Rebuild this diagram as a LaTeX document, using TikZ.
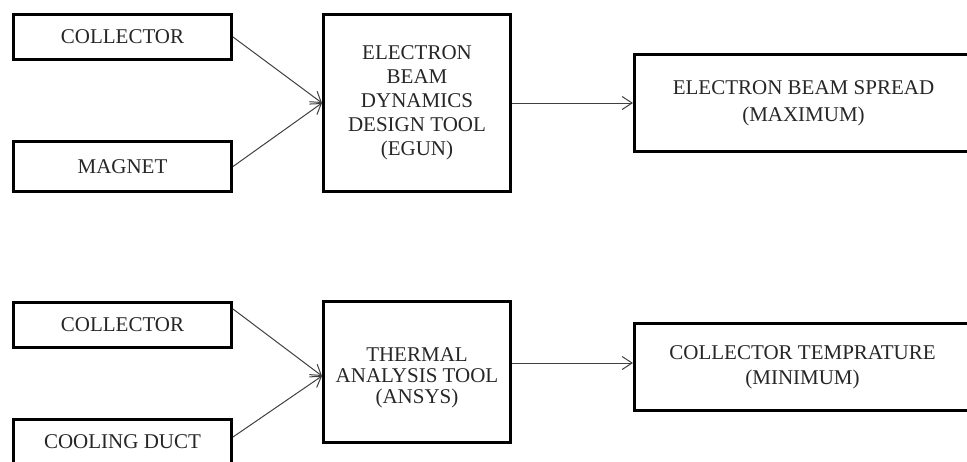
\documentclass[tikz,border=0pt]{standalone}
\usepackage{fontspec}
\setmainfont{Liberation Serif}
\usetikzlibrary{arrows.meta,calc}
\tikzset{
  blk/.style={draw=black, line width=2.6pt, rectangle, inner sep=2pt, align=center,
    text=black!85, font=\fontsize{21}{24}\selectfont},
  conn/.style={draw=black!75, line width=1pt, -{Straight Barb[length=10pt,width=13pt]}}
}
\begin{document}
\begin{tikzpicture}[x=1pt,y=-1pt]
\useasboundingbox (0,0) rectangle (967,461);
\begin{scope}
\clip (0,0) rectangle (967,461);
% top row
\node[blk, minimum width=218.4pt, minimum height=45.4pt] (c1) at (122.5,37) {COLLECTOR};
\node[blk, minimum width=218.4pt, minimum height=50.4pt] (mag) at (122.5,166.5) {MAGNET};
\node[blk, minimum width=187.4pt, minimum height=177.4pt] (egun) at (417,103)
  {ELECTRON\\BEAM\\DYNAMICS\\DESIGN TOOL\\(EGUN)};
\node[blk, minimum width=338.4pt, minimum height=97.4pt, font=\fontsize{21}{27}\selectfont] (spread) at (803.5,103)
  {ELECTRON BEAM SPREAD\\(MAXIMUM)};
% bottom row
\node[blk, minimum width=218.4pt, minimum height=45.4pt] (c2) at (122.5,325) {COLLECTOR};
\node[blk, minimum width=218.4pt, minimum height=45.4pt] (duct) at (122.5,442) {COOLING DUCT};
\node[blk, minimum width=187.4pt, minimum height=141.4pt, font=\fontsize{21}{21}\selectfont] (ansys) at (417,372)
  {\raisebox{-11pt}[0pt][0pt]{\begin{tabular}{@{}c@{}}THERMAL\\ANALYSIS TOOL\\(ANSYS)\end{tabular}}};
\node[blk, minimum width=336.4pt, minimum height=87.4pt, font=\fontsize{21}{25}\selectfont] (temp) at (802.5,367)
  {COLLECTOR TEMPRATURE\\(MINIMUM)};
\end{scope}
% connectors
\coordinate (a2) at ($(ansys.west)+(0,4)$);
\coordinate (s2) at ($(c2.north east)+(0,8)$);
\coordinate (s3) at ($(duct.north east)+(0,19)$);
\coordinate (t1) at ($(temp.west)+(0,-4)$);
\draw[conn] (c1.east) -- (egun.west);
\draw[conn] (mag.east) -- (egun.west);
\draw[conn] (egun.east) -- (egun.east -| spread.west);
\draw[conn] (s2) -- (a2);
\draw[conn] (s3) -- (a2);
\draw[conn] (t1 -| ansys.east) -- (t1);
\end{tikzpicture}
\end{document}
